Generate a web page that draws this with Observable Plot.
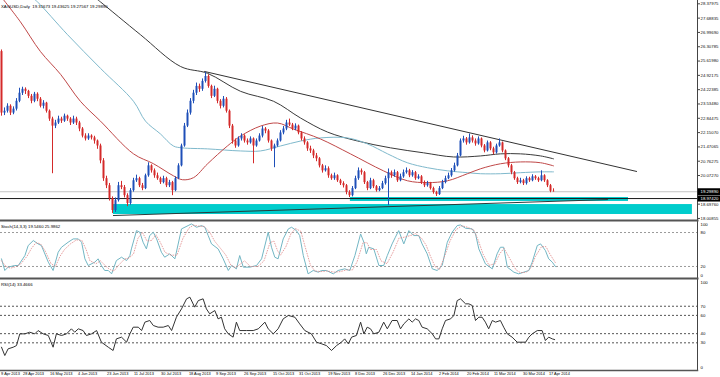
<!DOCTYPE html>
<html><head><meta charset="utf-8">
<script src="https://cdn.jsdelivr.net/npm/d3@7"></script>
<script src="https://cdn.jsdelivr.net/npm/@observablehq/plot@0.6"></script>
<style>
html,body{margin:0;padding:0;background:#fff;}
#chart{width:720px;height:377px;overflow:hidden;position:relative;}
#chart svg{display:block;}
</style></head><body><div id="chart"></div>
<script>
// ---------- DATA ----------
const header = "XAGUSD,Daily  19.31673 19.43625 19.27567 19.29890";
const open = [26.07,23.10,23.19,23.43,23.10,23.29,23.67,24.06,24.25,24.15,
23.91,23.67,24.01,23.77,23.43,23.58,23.19,22.81,22.47,22.62,
22.81,22.71,22.95,22.81,22.62,22.81,22.62,22.33,21.99,21.85,
21.99,21.90,21.75,21.51,20.79,19.93,19.59,18.97,18.39,18.87,
19.59,19.50,19.11,18.73,19.35,19.83,19.93,19.59,19.45,20.07,
20.55,20.31,20.07,19.93,19.74,19.93,19.59,19.74,19.35,19.93,
20.55,21.51,22.47,23.10,23.67,24.06,24.39,24.25,24.63,24.87,
24.39,23.91,24.25,23.67,23.43,23.77,23.19,22.47,21.75,21.51,
21.85,21.99,21.75,21.66,21.85,21.51,21.75,21.99,22.33,22.23,
21.75,21.37,21.51,21.75,22.14,22.33,22.62,22.52,22.33,22.47,
22.14,21.85,21.66,21.37,21.27,21.03,20.89,20.55,20.31,20.41,
20.07,19.93,20.07,19.83,19.69,19.59,19.26,19.11,19.45,19.93,
20.31,20.22,19.74,19.45,19.83,19.54,19.35,19.45,19.69,19.93,
20.22,20.07,20.22,19.83,20.02,20.22,20.31,20.07,20.22,19.93,
20.02,19.74,19.59,19.69,19.45,19.26,19.16,19.45,19.74,19.93,
20.07,20.31,20.55,21.03,21.75,21.85,21.66,21.90,21.75,21.61,
21.85,21.51,21.27,21.66,21.37,21.18,21.51,21.66,21.27,20.89,
20.55,20.22,19.93,19.74,19.83,19.69,19.93,19.83,20.02,19.93,
19.83,20.07,19.83,19.59,19.32];
const high = [26.15,23.35,23.55,23.50,23.40,23.80,24.30,24.35,24.32,24.20,
24.00,24.10,24.08,23.85,23.70,23.62,23.25,22.90,22.75,22.95,
22.90,23.05,23.00,22.88,22.95,22.90,22.70,22.40,22.10,22.10,
22.05,21.98,21.80,21.60,20.90,20.05,19.70,19.05,19.00,19.75,
19.80,19.60,19.20,19.45,19.95,20.10,20.00,19.70,20.15,20.70,
20.60,20.40,20.20,20.00,20.05,20.00,19.85,19.80,20.02,20.65,
21.60,22.60,23.25,23.80,24.20,24.55,24.50,24.75,25.07,24.95,
24.45,24.40,24.30,23.75,23.90,23.85,23.25,22.55,21.85,21.95,
22.10,22.05,21.85,21.95,21.90,21.85,22.10,22.45,22.40,22.30,
21.80,21.60,21.85,22.25,22.45,22.75,22.81,22.60,22.58,22.52,
22.20,21.95,21.72,21.50,21.35,21.15,20.95,20.62,20.55,20.50,
20.15,20.20,20.12,19.90,19.78,19.65,19.35,19.55,20.05,20.45,
20.40,20.28,19.80,19.95,19.90,19.60,19.55,19.80,20.05,20.40,
20.30,20.35,20.28,20.15,20.35,20.45,20.38,20.32,20.28,20.12,
20.08,19.82,19.80,19.75,19.52,19.32,19.55,19.85,20.05,20.20,
20.42,20.68,21.15,21.85,21.98,21.92,22.09,22.00,21.85,21.95,
21.90,21.58,21.75,21.72,21.45,21.60,21.85,21.70,21.32,20.95,
20.62,20.28,20.00,19.95,19.90,20.02,20.00,20.12,20.08,20.00,
20.31,20.12,19.88,19.65,19.44];
const low = [22.95,22.98,23.10,22.98,23.02,23.20,23.60,23.95,24.00,23.80,
23.55,23.60,23.65,23.35,23.30,23.10,22.70,20.17,22.35,22.55,
22.60,22.65,22.70,22.50,22.55,22.50,22.20,21.90,21.75,21.78,
21.80,21.60,21.35,20.65,19.80,19.45,18.85,18.25,18.30,18.80,
19.40,19.00,18.58,18.65,19.28,19.75,19.50,19.35,19.40,20.00,
20.20,19.95,19.85,19.65,19.68,19.50,19.50,19.11,19.30,19.88,
20.50,21.45,22.40,23.00,23.55,23.95,24.10,24.15,24.55,24.30,
23.80,23.85,23.55,23.30,23.35,23.10,22.35,21.60,21.40,21.45,
21.75,21.65,21.55,21.60,20.65,21.45,21.70,21.90,22.10,21.65,
21.25,20.46,21.45,21.70,22.05,22.25,22.45,22.25,22.25,22.05,
21.75,21.55,21.25,21.15,20.90,20.75,20.45,20.20,20.25,19.95,
19.85,19.85,19.75,19.60,19.48,19.15,19.02,19.05,19.40,19.85,
20.10,19.65,19.35,19.40,19.45,19.28,19.30,19.40,19.62,18.63,
19.95,20.00,19.75,19.78,19.95,20.15,19.98,20.00,19.85,19.88,
19.65,19.50,19.52,19.38,19.18,19.07,19.12,19.40,19.68,19.88,
20.00,20.25,20.50,20.98,21.65,21.55,21.60,21.65,21.50,21.55,
21.42,21.18,21.22,21.28,21.08,21.12,21.45,21.18,20.80,20.45,
20.12,19.85,19.65,19.68,19.60,19.62,19.75,19.78,19.85,19.75,
19.78,19.75,19.50,19.25,19.28];
const close = [23.10,23.19,23.43,23.10,23.29,23.67,24.06,24.25,24.15,23.91,
23.67,24.01,23.77,23.43,23.58,23.19,22.81,22.47,22.62,22.81,
22.71,22.95,22.81,22.62,22.81,22.62,22.33,21.99,21.85,21.99,
21.90,21.75,21.51,20.79,19.93,19.59,18.97,18.39,18.87,19.59,
19.50,19.11,18.73,19.35,19.83,19.93,19.59,19.45,20.07,20.55,
20.31,20.07,19.93,19.74,19.93,19.59,19.74,19.35,19.93,20.55,
21.51,22.47,23.10,23.67,24.06,24.39,24.25,24.63,24.87,24.39,
23.91,24.25,23.67,23.43,23.77,23.19,22.47,21.75,21.51,21.85,
21.99,21.75,21.66,21.85,21.51,21.75,21.99,22.33,22.23,21.75,
21.37,21.51,21.75,22.14,22.33,22.62,22.52,22.33,22.47,22.14,
21.85,21.66,21.37,21.27,21.03,20.89,20.55,20.31,20.41,20.07,
19.93,20.07,19.83,19.69,19.59,19.26,19.11,19.45,19.93,20.31,
20.22,19.74,19.45,19.83,19.54,19.35,19.45,19.69,19.93,20.22,
20.07,20.22,19.83,20.02,20.22,20.31,20.07,20.22,19.93,20.02,
19.74,19.59,19.69,19.45,19.26,19.16,19.45,19.74,19.93,20.07,
20.31,20.55,21.03,21.75,21.85,21.66,21.90,21.75,21.61,21.85,
21.51,21.27,21.66,21.37,21.18,21.51,21.66,21.27,20.89,20.55,
20.22,19.93,19.74,19.83,19.69,19.93,19.83,20.02,19.93,19.83,
20.07,19.83,19.59,19.32,19.30];

// moving averages: [bar index, price]
const maRed = [[0,28.7],[6.3,27.51],[13,26.07],[19.7,24.97],[26.3,23.67],[33,22.71],[44,21.13],[50.7,20.65],[57.3,20.07],[60.3,19.88],[64,19.98],[68.7,20.65],[75.3,21.51],[79.7,21.99],[86.3,22.47],[92,22.62],[97.3,22.33],[106.3,21.85],[116.3,21.13],[127.3,20.31],[135.3,19.83],[142,19.74],[148.7,19.83],[155.3,20.17],[159.7,20.41],[166.3,20.65],[173,20.74],[179.7,20.70],[184,20.55]];
const maBlue = [[10,28.7],[12,28.47],[22,26.89],[33,25.26],[44,23.67],[48,22.71],[53,22.09],[57.3,21.51],[60.3,21.42],[68.7,21.37],[79.7,21.27],[86.3,21.27],[93,21.51],[99.7,21.75],[106.3,21.90],[115.3,21.90],[122,21.61],[128.7,21.13],[135.3,20.70],[142,20.46],[148.7,20.31],[155.3,20.22],[159.7,20.17],[166.3,20.17],[173,20.22],[179.7,20.26],[184,20.26]];
const maDark = [[31,28.7],[33,28.47],[46.3,26.89],[59.7,25.35],[68.7,25.02],[79.7,24.15],[90.7,23.67],[99.7,22.86],[108.7,22.18],[118.7,21.75],[129.7,21.42],[140.7,21.18],[150.7,20.98],[159.7,21.03],[166.3,21.13],[173,21.13],[179.7,21.03],[184,20.89]];
const trendHigh = [[67.7,25.11],[211.7,20.28]];
const trendLow = [[37.3,18.15],[202,18.92]];
const zones = [{x1:116.3,x2:209,y1:18.83,y2:19.02},{x1:37.3,x2:230.3,y1:18.20,y2:18.68}];
const bidLine = 19.2989;
const supportLine = 18.97;
const supportLabel = "18.97420";
const bidLabel = "19.29890";

const priceTicks = [18.00855,18.69996,20.08279,20.77420,21.46561,22.15702,22.84843,23.53985,24.23126,24.92267,25.61408,26.30549,26.99690,27.68832,28.37973];
const priceTickLabels = ["18.00855","18.69760","20.07270","20.76275","21.47065","22.15070","22.84475","23.53480","24.22385","24.92175","25.61980","26.30785","26.99690","27.68835","28.37975"];

const stochTitle = "Stoch(14,3,3) 19.5460 25.9862";
const stochK = [[0,33.5],[1.1,12.9],[2.2,18.8],[4.4,21.7],[5.6,21.7],[7.8,39.3],[8.9,57.0],[10.6,65.8],[12.2,59.9],[13.3,57.0],[15.6,27.6],[17.2,12.9],[18.9,45.2],[20,54.0],[22.2,62.8],[23.9,68.7],[25.6,68.7],[26.7,62.8],[27.8,33.5],[28.9,21.7],[31.1,27.6],[32.2,33.5],[33.3,21.7],[34.4,12.9],[35.6,12.9],[36.7,7.0],[38.3,30.5],[40,36.4],[41.7,30.5],[42.8,39.3],[43.3,51.1],[45,83.4],[46.1,80.5],[47.2,62.8],[48.3,51.1],[49.4,74.6],[50.6,80.5],[51.7,68.7],[53.3,45.2],[54.4,36.4],[56.1,42.3],[57.8,33.5],[60,86.4],[62.2,92.2],[63.3,95.2],[65,89.3],[66.7,92.2],[67.8,89.3],[68.9,74.6],[70,59.9],[72.2,51.1],[73.9,33.5],[75.6,12.9],[76.7,21.7],[78.3,15.8],[79.4,39.3],[80.6,18.8],[82.8,18.8],[85,21.7],[86.7,33.5],[88.9,80.5],[90,54.0],[91.1,36.4],[92.2,33.5],[93.9,68.7],[95.6,86.4],[96.7,89.3],[98.3,83.4],[99.4,74.6],[100.6,39.3],[102.2,7.0],[103.9,12.9],[105.6,9.9],[106.7,12.9],[108.3,12.9],[110.6,7.0],[112.2,12.9],[114.4,15.8],[116.1,12.9],[117.8,39.3],[119.7,77.5],[120.8,62.8],[121.6,42.3],[122.4,54.0],[124.1,51.1],[125.8,21.7],[127.4,21.7],[128.6,39.3],[130.2,59.9],[131.3,71.7],[132.4,83.4],[134.1,59.9],[135.8,83.4],[137.4,74.6],[139.1,74.6],[140.2,59.9],[141.9,42.3],[143.6,15.8],[145.2,12.9],[146.9,21.7],[148.6,62.8],[150.2,80.5],[151.9,92.2],[153,93.4],[154.7,87.5],[156.9,86.4],[158,77.5],[159.1,51.1],[161.3,24.6],[163.6,15.8],[165.2,42.3],[166.3,54.0],[167.4,54.0],[168.6,18.8],[170.8,9.9],[172.4,7.0],[174.1,9.9],[175.8,12.9],[176.9,27.6],[178.6,57.0],[179.7,59.9],[181.3,48.2],[182.4,33.5],[183.6,27.6],[184.7,19.5]];
const stochD = [[0,30],[1.5,20],[3,17],[5,20],[6.5,25],[8.5,38],[10,52],[11.5,62],[13,60],[14.5,48],[16.5,25],[18,20],[19.5,38],[21,50],[23,60],[25,67],[26.8,66],[28.2,50],[29.5,30],[31.5,25],[33,30],[34.5,22],[36,15],[37.5,12],[39,22],[41,33],[42.5,35],[44,42],[45.5,70],[47,80],[48.5,65],[50,66],[51.5,76],[53,62],[54.5,45],[56.5,40],[58.5,40],[60.5,70],[62.5,88],[64,93],[66,91],[67.5,91],[69.5,80],[71,65],[73,52],[74.8,40],[76.5,22],[78,18],[79.8,25],[81,30],[83,20],[85.5,20],[87.5,30],[89.5,62],[90.8,65],[92,48],[93,40],[94.8,55],[96.5,78],[98,87],[99.8,82],[101.2,55],[103,22],[104.5,12],[106.5,11],[108.5,12],[111,10],[113,11],[115,14],[117,14],[118.5,28],[120.5,62],[121.8,62],[123,50],[125,50],[126.5,30],[128.5,25],[130.5,45],[132.5,70],[134.5,72],[136.5,75],[138,78],[140,70],[141.5,58],[143,38],[144.5,20],[146,15],[147.5,35],[149.5,65],[151.5,85],[153.5,92],[155.5,89],[157.5,84],[159,65],[160.5,42],[162.5,22],[164.5,25],[166,42],[167.5,52],[169,38],[171.5,14],[173,9],[175,10],[176.5,18],[178,38],[180,55],[181.5,55],[182.8,42],[184.7,26]];
const stochLevels = [20, 80];

const rsiTitle = "RSI(14) 33.4666";
const rsi = [[0,25.2],[1.1,16.1],[2.2,23.4],[3.9,25.2],[5,27.0],[6.1,39.8],[7.8,39.8],[9.4,41.6],[11.1,39.8],[12.2,43.4],[13.9,39.8],[15.6,38.0],[17.2,25.2],[18.3,39.8],[20,38.0],[21.7,39.8],[23.3,45.3],[24.4,41.6],[25.6,45.3],[27.2,43.4],[28.3,38.0],[30,39.8],[31.7,43.4],[33.3,30.7],[35.6,25.2],[37.2,21.6],[38.3,34.3],[40,36.2],[41.7,30.7],[42.8,39.8],[43.9,47.1],[45.6,47.1],[46.7,43.4],[47.8,52.6],[49.4,54.4],[50.6,48.9],[52.2,47.1],[53.9,47.1],[55.6,48.9],[56.7,43.4],[58.3,58.0],[60,67.1],[61.7,78.1],[62.8,79.9],[64.4,69.0],[65.6,76.2],[67.2,78.1],[68.3,67.1],[69.4,61.7],[71.1,65.3],[72.2,56.2],[73.3,58.0],[74.4,45.3],[75.6,39.8],[77.2,36.2],[78.3,52.6],[79.4,43.4],[81.7,43.4],[83.9,43.4],[85.6,45.3],[87.8,52.6],[88.9,45.3],[90.6,39.8],[92.2,45.3],[93.9,56.2],[95.6,59.9],[97.8,58.0],[99.4,50.7],[101.1,43.4],[103.3,39.8],[105,30.7],[106.7,28.9],[108.3,27.0],[110,21.6],[111.7,27.0],[113.3,30.7],[114.4,34.3],[115.6,28.9],[116.7,36.2],[118.3,38.0],[119.7,52.6],[120.8,39.8],[121.9,47.1],[123,45.3],[124.1,39.8],[125.8,41.6],[127.4,52.6],[128.6,45.3],[130.2,54.4],[131.9,54.4],[133,45.3],[134.1,50.7],[135.8,56.2],[136.9,52.6],[138,56.2],[139.1,54.4],[140.2,47.1],[141.9,45.3],[143.6,39.8],[144.7,34.3],[145.8,34.3],[146.9,45.3],[148,54.4],[149.7,56.2],[150.8,59.9],[151.9,76.2],[153,78.1],[154.7,72.6],[155.8,72.6],[156.9,70.8],[158,54.4],[159.1,58.0],[160.2,58.0],[161.3,52.6],[162.4,45.3],[163.6,54.4],[164.7,52.6],[166.3,54.4],[167.4,47.1],[168.6,39.8],[170.2,36.2],[171.9,30.7],[173,30.7],[174.7,30.7],[175.8,36.2],[176.9,39.8],[178.6,43.4],[180.2,43.4],[181.3,32.5],[182.4,36.2],[183.6,34.3],[184.4,33.5]];
const rsiLevels = [30, 40, 60, 70];

const dateLabels = ["9 Apr 2013","28 Apr 2013","16 May 2013","4 Jun 2013","23 Jun 2013","11 Jul 2013","30 Jul 2013","18 Aug 2013","9 Sep 2013","26 Sep 2013","15 Oct 2013","31 Oct 2013","19 Nov 2013","8 Dec 2013","26 Dec 2013","14 Jan 2014","2 Feb 2014","20 Feb 2014","11 Mar 2014","30 Mar 2014","17 Apr 2014"];
const dateIdx = [-0.3,7,16,25.3,35,44,53,62.3,71.3,80.7,90.3,99,108.7,117.7,127,136.3,145.7,155,164,173.7,182.3];

// ---------- DRAW ----------
const FONT = "'Liberation Sans', Arial, sans-serif";
const FS = 4.3;
const FS_DATE = 3.9;
const xDomain = [-1/3, 232];
const AXIS_X = 232;
const BULL = "#1e4fb8", BEAR = "#d42a2a";
const bars = close.map((c, i) => ({i, open: open[i], high: high[i], low: low[i], close: c}));
const col = d => d.close >= d.open ? BULL : BEAR;

function baseOpts(h, mb) {
  return {width: 720, height: h, marginLeft: 0, marginRight: 23, marginTop: 0, marginBottom: mb,
    style: {fontFamily: FONT, background: "#fff", overflow: "hidden"},
    x: {domain: xDomain, axis: null}};
}

const main = Plot.plot({
  ...baseOpts(220, 0),
  y: {domain: [28.54 - 0.04832 * 220, 28.54], axis: null},
  marks: [
    Plot.rect(zones, {x1: "x1", x2: "x2", y1: "y1", y2: "y2", fill: "#00cccc"}),
    Plot.ruleY([bidLine], {stroke: "#c4c4c4", strokeWidth: 1}),
    Plot.ruleY([supportLine], {stroke: "#1a1a1a", strokeWidth: 1}),
    Plot.line(trendLow, {stroke: "#2a3a3a", strokeWidth: 1}),
    Plot.line(maDark, {stroke: "#3a3a3a", strokeWidth: 1, curve: "catmull-rom"}),
    Plot.line(maBlue, {stroke: "#7fb9cc", strokeWidth: 1, curve: "catmull-rom"}),
    Plot.line(maRed, {stroke: "#c04848", strokeWidth: 1, curve: "catmull-rom"}),
    Plot.line(trendHigh, {stroke: "#333", strokeWidth: 1}),
    Plot.ruleX(bars, {x: "i", y1: "low", y2: "high", stroke: col, strokeWidth: 1}),
    Plot.ruleX(bars, {x: "i", y1: "open", y2: "close", stroke: col, strokeWidth: 2}),
    Plot.ruleX([AXIS_X], {stroke: "#444"}),
    Plot.ruleY(priceTicks, {x1: AXIS_X, x2: AXIS_X + 1, stroke: "#444"}),
    Plot.text(priceTicks, {x: AXIS_X, y: d => d, text: (d, i) => priceTickLabels[i], textAnchor: "start", dx: 3, fontSize: FS, fill: "#111"}),
    Plot.ruleY([bidLine], {x1: AXIS_X + 0.2, x2: 241, stroke: "#000", strokeWidth: 7}),
    Plot.text([bidLine], {x: AXIS_X, y: d => d, text: [bidLabel], textAnchor: "start", dx: 3, fontSize: FS, fill: "#fff"}),
    Plot.ruleY([supportLine], {x1: AXIS_X + 0.2, x2: 241, stroke: "#000", strokeWidth: 6}),
    Plot.text([supportLine], {x: AXIS_X, y: d => d, text: [supportLabel], textAnchor: "start", dx: 3, fontSize: FS, fill: "#fff"}),
    Plot.text([header], {frameAnchor: "top-left", dx: 0.5, dy: 4, textAnchor: "start", fontSize: FS, fill: "#000"}),
    Plot.frame({anchor: "bottom", stroke: "#555", strokeWidth: 2})
  ]
});

const stoch = Plot.plot({
  ...baseOpts(58, 0),
  y: {domain: [0, 100], range: [57.3, 0.7], axis: null},
  marks: [
    Plot.ruleY(stochLevels, {stroke: "#9a9a9a", strokeDasharray: "2,2"}),
    Plot.line(stochK, {stroke: "#72b6c4", strokeWidth: 1}),
    Plot.line(stochD, {stroke: "#e08888", strokeWidth: 0.8, strokeDasharray: "0.8,1.8"}),
    Plot.ruleX([AXIS_X], {stroke: "#444"}),
    Plot.text(stochLevels, {x: AXIS_X, y: d => d, text: d => String(d), textAnchor: "start", dx: 3, fontSize: FS}),
    Plot.text([100], {x: AXIS_X, y: d => d, text: d => String(d), textAnchor: "start", dx: 3, dy: 3.3, fontSize: FS}),
    Plot.text([0], {x: AXIS_X, y: d => d, text: d => String(d), textAnchor: "start", dx: 3, dy: -2.5, fontSize: FS}),
    Plot.text([stochTitle], {frameAnchor: "top-left", dx: 0.5, dy: 4, textAnchor: "start", fontSize: FS}),
    Plot.frame({anchor: "top", stroke: "#555", strokeWidth: 2}),
    Plot.frame({anchor: "bottom", stroke: "#555", strokeWidth: 2})
  ]
});

const rsiPlot = Plot.plot({
  ...baseOpts(99, 7),
  y: {domain: [0, 100], range: [91.75, 0.3], axis: null},
  marks: [
    Plot.ruleY(rsiLevels, {stroke: "#555", strokeDasharray: "2,2"}),
    Plot.line(rsi, {stroke: "#333", strokeWidth: 1}),
    Plot.ruleX([AXIS_X], {stroke: "#444"}),
    Plot.text(rsiLevels, {x: AXIS_X, y: d => d, text: d => String(d), textAnchor: "start", dx: 3, fontSize: FS}),
    Plot.text([100], {x: AXIS_X, y: d => d, text: d => String(d), textAnchor: "start", dx: 3, dy: 3.5, fontSize: FS}),
    Plot.text([0], {x: AXIS_X, y: d => d, text: d => String(d), textAnchor: "start", dx: 3, dy: -3, fontSize: FS}),
    Plot.text([rsiTitle], {frameAnchor: "top-left", dx: 0.5, dy: 4, textAnchor: "start", fontSize: FS}),
    Plot.text(dateLabels, {x: (d, i) => dateIdx[i], frameAnchor: "bottom", dy: 4.3, dx: 0.5, textAnchor: "start", fontSize: FS_DATE}),
    Plot.frame({anchor: "top", stroke: "#555", strokeWidth: 2}),
    Plot.frame({anchor: "bottom", stroke: "#555", strokeWidth: 1.5})
  ]
});

const root = document.getElementById("chart");
root.append(main, stoch, rsiPlot);
</script></body></html>
